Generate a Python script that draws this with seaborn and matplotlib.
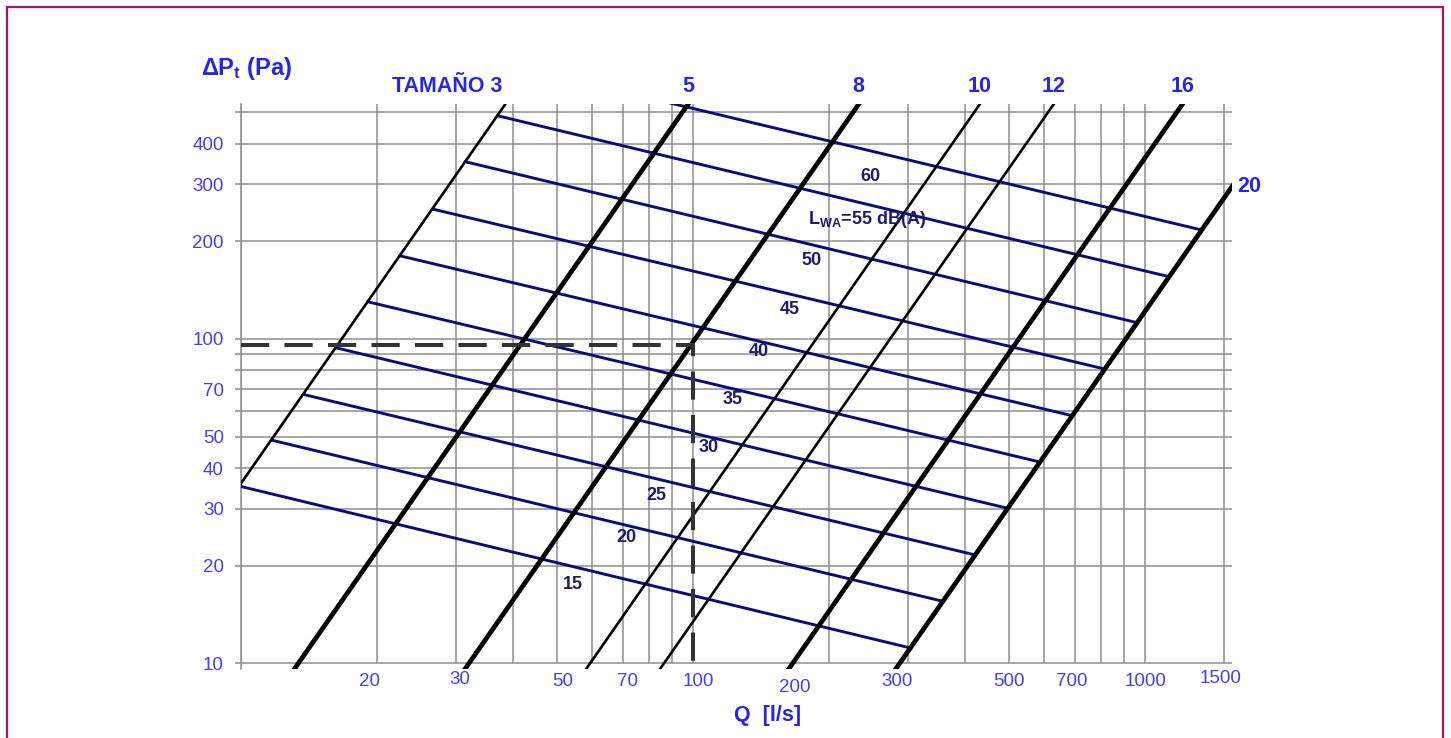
import numpy as np
import pandas as pd
import matplotlib
matplotlib.use("Agg")
import matplotlib.pyplot as plt
from matplotlib.patches import Rectangle
from matplotlib.ticker import NullLocator
from matplotlib.transforms import ScaledTranslation
import seaborn as sns

# ---------------------------------------------------------------- data
# Fan sizes: each is a system curve dP = 10 Pa * (Q / q_at_10pa)^2
fan_sizes = [3, 5, 8, 10, 12, 16, 20]
size_labels = ["TAMAÑO 3", "5", "8", "10", "12", "16", "20"]
q_at_10pa = [5.29, 13.42, 32.0, 59.3, 86.4, 166.4, 287.0]   # l/s at 10 Pa
thick_size = [False, True, True, False, False, True, True]

# Sound power levels: pressure where each line meets the size 3 and size 20 curves
lwa_levels = [15, 20, 25, 30, 35, 40, 45, 50, 55, 60]
lwa_dp_on_size3 = [35.2, 48.8, 67.5, 94.0, 130.3, 180.6, 251.7, 352.1, 488.2, 678.0]
lwa_dp_on_size20 = [11.15, 15.53, 21.58, 30.06, 41.75, 58.0, 80.8, 112.3, 155.6, 216.8]

# Worked example operating point
example_q = 100
example_dp = 96

# Axis grid and tick labels
y_grid = [10, 20, 30, 40, 50, 60, 70, 80, 90, 100, 200, 300, 400, 500]
y_labelled = [10, 20, 30, 40, 50, 70, 100, 200, 300, 400]
x_grid = [10, 20, 30, 40, 50, 60, 70, 80, 90, 100,
          200, 300, 400, 500, 600, 700, 800, 900, 1000, 1500]
x_labelled = [20, 30, 50, 70, 100, 200, 300, 500, 700, 1000, 1500]

# ---------------------------------------------------------------- layout / style
X_MIN, X_MAX = 10, 1560
Y_MIN, Y_MAX = 9.6, 530

GRID = "#8e8e8e"
TICK_BLUE = "#3f3fff"
TITLE_BLUE = "#2626e8"
NAVY = "#0b0b80"
NAVY_TEXT = "#1c1c72"
FRAME = "#a3176b"

# anchor points (Q, dP) for the level captions
lwa_text_q = [54.2, 71.4, 83.3, 108.3, 122.8, 139.7, 164.2, 183.4, 243.6, 246.7]
lwa_text_dp = [17.5, 24.4, 33.0, 46.4, 65.3, 91.8, 122.9, 175.2, 232.8, 316.6]

# pixel nudges (dx, dy) for the flow labels
x_label_nudge = {20: (-6.7, 0), 30: (3, -2), 50: (6, 0), 70: (4.7, 0), 100: (5.6, 0),
                 200: (-34, 6), 300: (-11.6, 0), 500: (0, 0), 700: (-2.6, 0),
                 1000: (0.7, 0), 1500: (-3.5, -3)}

sns.set_theme(style="white")
plt.rcParams["font.family"] = ["Liberation Sans", "DejaVu Sans"]
plt.rcParams["mathtext.fontset"] = "custom"
plt.rcParams["mathtext.rm"] = "Liberation Sans:bold"
plt.rcParams["mathtext.it"] = "Liberation Sans:bold"
plt.rcParams["mathtext.bf"] = "Liberation Sans:bold"

W, H, DPI = 1451, 738, 100
fig = plt.figure(figsize=(W / DPI, H / DPI), dpi=DPI)
fig.patch.set_facecolor("white")
ax = fig.add_axes([240.6 / W, (H - 669.05) / H, (1232.1 - 240.6) / W, (669.05 - 104.1) / H])
ax.set_xscale("log")
ax.set_yscale("log")
ax.set_xlim(X_MIN, X_MAX)
ax.set_ylim(Y_MIN, Y_MAX)
ax.set_facecolor("white")

# ---------------------------------------------------------------- grid
ax.xaxis.set_minor_locator(NullLocator())
ax.yaxis.set_minor_locator(NullLocator())
ax.set_yticks(y_grid)
ax.set_yticklabels([str(v) if v in y_labelled else "" for v in y_grid])
ax.yaxis.grid(True, color=GRID, lw=1.1)
ax.vlines(x_grid, 10, Y_MAX, color=GRID, lw=1.1, zorder=0.6)
ax.set_axisbelow(True)
ax.tick_params(axis="y", direction="out", length=4, width=1.1, color=GRID,
               labelcolor=TICK_BLUE, labelsize=13.5, pad=8, left=True)
ax.set_xticks([])
for side in ["top", "right", "bottom"]:
    ax.spines[side].set_visible(False)
ax.spines["left"].set_color(GRID)
ax.spines["left"].set_linewidth(1.1)

for v in x_labelled:
    dx, dy = x_label_nudge[v]
    tr = ax.get_xaxis_transform() + ScaledTranslation(dx / DPI, -(12 + dy) / DPI,
                                                      fig.dpi_scale_trans)
    ax.text(v, 0, str(v), transform=tr, ha="center", va="center",
            fontsize=13.5, color=TICK_BLUE)

# ---------------------------------------------------------------- sound power lines
lwa_rows = []
for lvl, dp3, dp20 in zip(lwa_levels, lwa_dp_on_size3, lwa_dp_on_size20):
    lwa_rows.append(dict(level=lvl, Q=q_at_10pa[0] * np.sqrt(dp3 / 10), dP=dp3))
    lwa_rows.append(dict(level=lvl, Q=q_at_10pa[-1] * np.sqrt(dp20 / 10), dP=dp20))
lwa_df = pd.DataFrame(lwa_rows)
for lvl in lwa_levels:
    sns.lineplot(data=lwa_df[lwa_df["level"] == lvl], x="Q", y="dP", ax=ax,
                 color=NAVY, lw=2.1, estimator=None, sort=False, legend=False,
                 zorder=3)

# ---------------------------------------------------------------- fan size curves
size_rows = []
for s, q10 in zip(fan_sizes, q_at_10pa):
    for dp in (5.0, 1000.0):
        size_rows.append(dict(size=s, Q=q10 * np.sqrt(dp / 10), dP=dp))
size_df = pd.DataFrame(size_rows)
for s, thick in zip(fan_sizes, thick_size):
    sns.lineplot(data=size_df[size_df["size"] == s], x="Q", y="dP", ax=ax,
                 color="black", lw=3.4 if thick else 1.9, estimator=None,
                 sort=False, legend=False, zorder=4)

# ---------------------------------------------------------------- worked example
ex_df = pd.DataFrame({"Q": [X_MIN, example_q, example_q],
                      "dP": [example_dp, example_dp, 10]})
sns.lineplot(data=ex_df, x="Q", y="dP", ax=ax, color="#333333", lw=2.9,
             linestyle=(0, (7, 3.8)), estimator=None, sort=False, legend=False,
             zorder=5)

ax.set_xlabel("")
ax.set_ylabel("")

# ---------------------------------------------------------------- labels
for i, (s, q10, lab) in enumerate(zip(fan_sizes, q_at_10pa, size_labels)):
    if s == fan_sizes[-1]:
        dp_edge = 10 * (X_MAX / q10) ** 2
        ax.annotate(lab, (X_MAX, dp_edge), xytext=(4, 0), textcoords="offset points",
                    ha="left", va="center", fontsize=15.5, fontweight="bold",
                    color=TITLE_BLUE, annotation_clip=False)
    else:
        q_top = q10 * np.sqrt(Y_MAX / 10)
        ha = "right" if i == 0 else "center"
        dx = -2 if i == 0 else 0
        ax.annotate(lab, (q_top, Y_MAX), xytext=(dx, 13), textcoords="offset points",
                    ha=ha, va="center", fontsize=15.5, fontweight="bold",
                    color=TITLE_BLUE, annotation_clip=False)

for lvl, q, dp in zip(lwa_levels, lwa_text_q, lwa_text_dp):
    txt = r"L$_{\mathrm{WA}}$=%d dB(A)" % lvl if lvl == 55 else str(lvl)
    ax.text(q, dp, txt, ha="center", va="center", fontsize=13,
            fontweight="bold", color=NAVY_TEXT, zorder=6)

fig.text(247 / W, 1 - 68 / H, r"ΔP$_{\mathrm{t}}$ (Pa)", ha="center", va="center",
         fontsize=17, fontweight="bold", color=TITLE_BLUE)
fig.text(768 / W, 1 - 716 / H, "Q  [l/s]", ha="center", va="center",
         fontsize=15.5, fontweight="bold", color=TITLE_BLUE)

# page frame
fig.add_artist(Rectangle((7 / W, -0.1), (1443 - 7) / W, (H - 7) / H + 0.1,
                         transform=fig.transFigure, fill=False, ec=FRAME, lw=1.6))

fig.savefig("out.png", dpi=DPI)
